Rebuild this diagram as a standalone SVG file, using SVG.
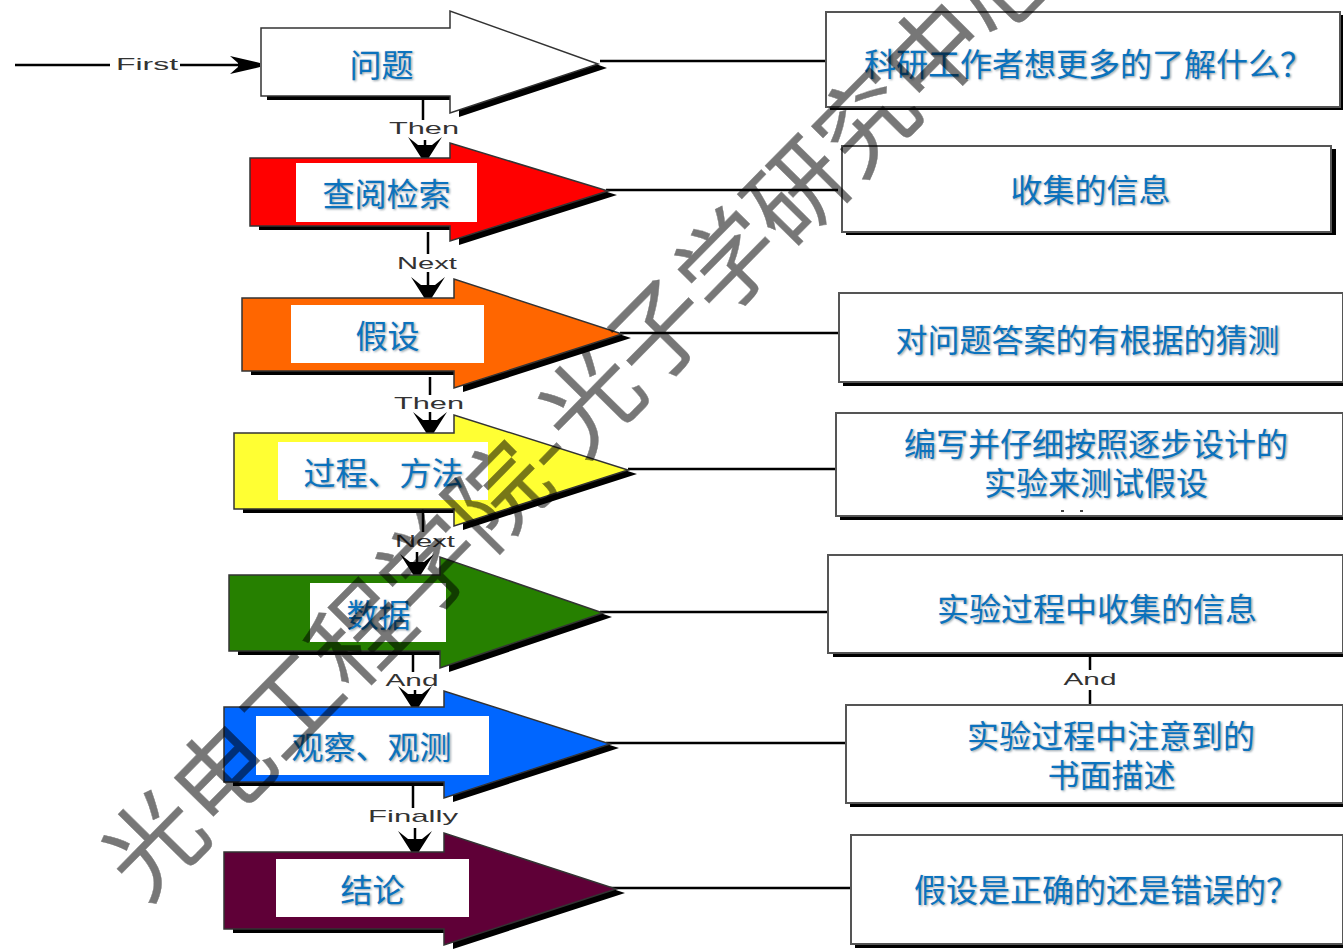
<svg xmlns="http://www.w3.org/2000/svg" width="1343" height="950" viewBox="0 0 1343 950">
<defs>
<style>
.cjk{font-family:"Noto Sans CJK SC","Liberation Sans",sans-serif;font-size:32px;fill:#0b72bd;text-anchor:middle}
.sh{font-family:"Noto Sans CJK SC","Liberation Sans",sans-serif;font-size:32px;fill:#70808c;opacity:.75;text-anchor:middle;filter:url(#bl)}
.lab{font-family:"Liberation Sans",sans-serif;font-size:17px;fill:#333;text-anchor:middle}
.ln{stroke:#000;stroke-width:2.5;fill:none}
.ar{stroke:#333;stroke-width:1.5}
.box{fill:#fff;stroke:#555;stroke-width:2}
.wm{font-family:"Noto Sans CJK SC",sans-serif;font-size:98px;fill:#000;stroke:#000;stroke-width:.4;opacity:.53}
</style>
<filter id="bl" x="-5%" y="-20%" width="110%" height="140%"><feGaussianBlur stdDeviation="0.8"/></filter>
<marker id="a" viewBox="0 0 30 18" refX="30" refY="9" markerWidth="30" markerHeight="18" markerUnits="userSpaceOnUse" orient="auto"><path d="M0 0L30 7V11L0 18L8 11V7Z" fill="#000"/></marker>
<marker id="b" viewBox="0 0 22 34" refX="22" refY="17" markerWidth="22" markerHeight="34" markerUnits="userSpaceOnUse" orient="auto"><path d="M0 0L8 10L8 24L0 34L22 20V14Z" fill="#000"/></marker>
</defs>
<g id="connectors">
<path class="ln" d="M15 65H110"/><path class="ln" d="M180 65H260" marker-end="url(#a)"/>
<path class="ln" d="M600 61H826M606 190H838M620 333H840M628 469H837M600 612H829M606 743H848M610 888H852"/>
<path class="ln" d="M423 100V120"/><path class="ln" d="M425 140V159" marker-end="url(#b)"/>
<path class="ln" d="M428 232V254"/><path class="ln" d="M428 272V299" marker-end="url(#b)"/>
<path class="ln" d="M430 377V395"/><path class="ln" d="M430 412V434" marker-end="url(#b)"/>
<path class="ln" d="M423 512V532"/><path class="ln" d="M417 552V576" marker-end="url(#b)"/>
<path class="ln" d="M413 652V672"/><path class="ln" d="M415 690V708" marker-end="url(#b)"/>
<path class="ln" d="M413 785V808"/><path class="ln" d="M415 828V853" marker-end="url(#b)"/>
<path class="ln" d="M1090 655V670M1090 690V705"/>
</g>
<g id="labels">
<text class="lab" x="147" y="70" textLength="62" lengthAdjust="spacingAndGlyphs">First</text>
<text class="lab" x="424" y="134" textLength="70" lengthAdjust="spacingAndGlyphs">Then</text>
<text class="lab" x="427" y="269" textLength="60" lengthAdjust="spacingAndGlyphs">Next</text>
<text class="lab" x="429" y="409" textLength="70" lengthAdjust="spacingAndGlyphs">Then</text>
<text class="lab" x="425" y="547" textLength="60" lengthAdjust="spacingAndGlyphs">Next</text>
<text class="lab" x="412" y="686" textLength="53" lengthAdjust="spacingAndGlyphs">And</text>
<text class="lab" x="413" y="822" textLength="90" lengthAdjust="spacingAndGlyphs">Finally</text>
<text class="lab" x="1090" y="685" textLength="53" lengthAdjust="spacingAndGlyphs">And</text>
</g>
<g id="n1"><path fill="#000" transform="translate(9 4)" d="M258 28H450V11L598 64L450 113V96H258Z"/><path class="ar" fill="#fff" d="M261 28H450V11L598 64L450 113V96H261Z"/><text class="sh" x="383" y="78">问题</text><text class="cjk" x="381.500" y="77">问题</text></g>
<g id="n2"><path fill="#000" transform="translate(9 4)" d="M250 158H450V143L608 191L450 241V226H250Z"/><path class="ar" fill="#f00" d="M250 158H450V143L608 191L450 241V226H250Z"/><rect x="296" y="163" width="181" height="59" fill="#fff"/><text class="sh" x="388" y="207">查阅检索</text><text class="cjk" x="386.500" y="206">查阅检索</text></g>
<g id="n3"><path fill="#000" transform="translate(9 4)" d="M242 298H454V279L622 334L454 388V371H242Z"/><path class="ar" fill="#f60" d="M242 298H454V279L622 334L454 388V371H242Z"/><rect x="291" y="305" width="193" height="58" fill="#fff"/><text class="sh" x="389" y="349">假设</text><text class="cjk" x="387.500" y="348">假设</text></g>
<g id="n4"><path fill="#000" transform="translate(9 4)" d="M234 433H454V415L628 470L454 526V509H234Z"/><path class="ar" fill="#ff3" d="M234 433H454V415L628 470L454 526V509H234Z"/><rect x="278" y="442" width="210" height="58" fill="#fff"/><text class="sh" x="385" y="486">过程、方法</text><text class="cjk" x="383.500" y="485">过程、方法</text></g>
<g id="n5"><path fill="#000" transform="translate(9 4)" d="M229 575H440V557L603 613L440 668V651H229Z"/><path class="ar" fill="#268000" d="M229 575H440V557L603 613L440 668V651H229Z"/><rect x="310" y="583" width="136" height="59" fill="#fff"/><text class="sh" x="380" y="628">数据</text><text class="cjk" x="378.500" y="627">数据</text></g>
<g id="n6"><path fill="#000" transform="translate(9 4)" d="M224 707H444V691L610 744L444 798V782H224Z"/><path class="ar" fill="#06f" d="M224 707H444V691L610 744L444 798V782H224Z"/><rect x="256" y="716" width="233" height="59" fill="#fff"/><text class="sh" x="373" y="760">观察、观测</text><text class="cjk" x="371.500" y="759">观察、观测</text></g>
<g id="n7"><path fill="#000" transform="translate(9 4)" d="M224 852H444V833L616 889L444 945V929H224Z"/><path class="ar" fill="#5f0037" d="M224 852H444V833L616 889L444 945V929H224Z"/><rect x="276" y="859" width="193" height="58" fill="#fff"/><text class="sh" x="374" y="903">结论</text><text class="cjk" x="372.500" y="902">结论</text></g>
<g id="b1"><rect x="830" y="15" width="513" height="95" fill="#000"/><rect class="box" x="826" y="12" width="514" height="95"/><text class="sh" x="1089.500" y="77">科研工作者想更多的了解什么？</text><text class="cjk" x="1088" y="76">科研工作者想更多的了解什么？</text></g>
<g id="b2"><rect x="846" y="149" width="490" height="86" fill="#000"/><rect class="box" x="842" y="146" width="489" height="86"/><text class="sh" x="1092" y="203">收集的信息</text><text class="cjk" x="1090.500" y="202">收集的信息</text></g>
<g id="b3"><rect x="843" y="296" width="500" height="90" fill="#000"/><rect class="box" x="839" y="293" width="504" height="89"/><text class="sh" x="1089" y="353">对问题答案的有根据的猜测</text><text class="cjk" x="1087.500" y="352">对问题答案的有根据的猜测</text></g>
<g id="b4"><rect x="840" y="417" width="503" height="103" fill="#000"/><rect class="box" x="836" y="413" width="507" height="103"/><rect x="1061" y="510" width="3" height="2" fill="#444"/><rect x="1080" y="510" width="3" height="2" fill="#444"/><text class="sh" x="1097.500" y="457">编写并仔细按照逐步设计的</text><text class="cjk" x="1096" y="456">编写并仔细按照逐步设计的</text><text class="sh" x="1097.500" y="496">实验来测试假设</text><text class="cjk" x="1096" y="495">实验来测试假设</text></g>
<g id="b5"><rect x="833" y="559" width="510" height="98" fill="#000"/><rect class="box" x="828" y="555" width="515" height="98"/><text class="sh" x="1098.500" y="622">实验过程中收集的信息</text><text class="cjk" x="1097" y="621">实验过程中收集的信息</text></g>
<g id="b6"><rect x="850" y="709" width="493" height="98" fill="#000"/><rect class="box" x="846" y="705" width="497" height="98"/><text class="sh" x="1112.500" y="749">实验过程中注意到的</text><text class="cjk" x="1111" y="748">实验过程中注意到的</text><text class="sh" x="1113" y="788">书面描述</text><text class="cjk" x="1111.500" y="787">书面描述</text></g>
<g id="b7"><rect x="855" y="839" width="488" height="109" fill="#000"/><rect class="box" x="851" y="835" width="492" height="109"/><text class="sh" x="1107.500" y="903">假设是正确的还是错误的？</text><text class="cjk" x="1106" y="902">假设是正确的还是错误的？</text></g>
<text class="wm" transform="translate(145 904) rotate(-45.4)">光电工程学院-光子学研究中心</text>
</svg>
